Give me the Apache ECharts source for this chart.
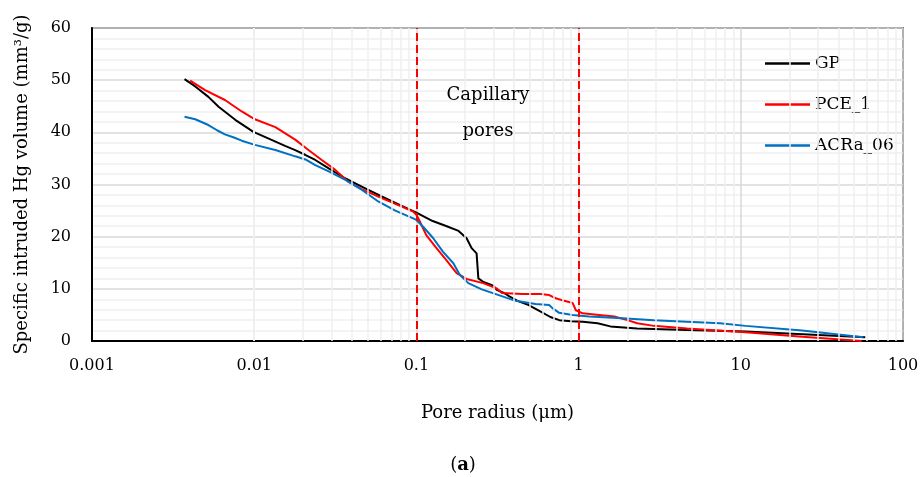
<!DOCTYPE html>
<html>
<head>
<meta charset="utf-8">
<script src="https://cdn.jsdelivr.net/npm/echarts@6/dist/echarts.min.js"></script>
<style>
html,body{margin:0;padding:0;background:#fff;}
#chart{width:922px;height:477px;}
</style>
</head>
<body>
<div id="chart"></div>
<script>
// ---- data ----
var xTickLabels = ['0.001', '0.01', '0.1', '1', '10', '100'];
var seriesNames = ['GP', 'PCE_1', 'ACRa_06'];

var gpX = [0.00372,0.00433,0.00522,0.00603,0.00764,0.00989,0.0129,0.0155,0.0179,0.0206,0.0238,0.0288,0.0363,0.046,0.0611,0.0812,0.1,0.126,0.151,0.182,0.204,0.219,0.235,0.241,0.259,0.298,0.313,0.352,0.372,0.42,0.483,0.58,0.67,0.76,0.9,1.06,1.31,1.57,2.29,4.64,10.7,30.1,58.5];
var gpY = [50.2,48.8,46.8,44.9,42.4,40.1,38.5,37.4,36.6,35.7,34.7,33.1,31.2,29.6,27.7,25.9,24.6,23.0,22.1,21.1,19.7,17.8,16.8,12.0,11.3,10.6,9.8,9.1,8.6,7.7,7.0,5.7,4.6,4.0,3.8,3.7,3.4,2.8,2.4,2.1,1.8,1.15,0.7];

var pceX = [0.00403,0.00498,0.0066,0.00838,0.0101,0.0135,0.0179,0.0216,0.0261,0.0316,0.0382,0.046,0.0611,0.0812,0.0955,0.1,0.105,0.115,0.133,0.153,0.177,0.204,0.258,0.312,0.337,0.449,0.581,0.658,0.723,0.815,0.918,0.962,1.06,1.34,1.66,2.0,2.30,2.91,4.66,10.7,23.9,55.7];
var pceY = [49.9,48.1,46.2,44.0,42.5,41.0,38.6,36.6,34.7,32.8,30.5,29.1,27.4,25.75,24.8,24.2,22.9,20.3,17.8,15.5,13.0,11.9,11.1,10.1,9.2,9.0,9.0,8.8,8.2,7.7,7.3,5.9,5.3,5.0,4.7,4.0,3.4,2.9,2.4,1.7,0.8,0.0];

var acrX = [0.00372,0.00433,0.00522,0.0059,0.0066,0.0075,0.00838,0.0101,0.0135,0.0179,0.0207,0.0238,0.0288,0.0365,0.046,0.0585,0.0741,0.0955,0.1,0.11,0.127,0.146,0.169,0.185,0.209,0.253,0.322,0.408,0.543,0.658,0.69,0.759,0.918,1.16,1.86,2.91,4.66,7.45,10.7,23.9,57];
var acrY = [43.0,42.5,41.4,40.4,39.6,39.0,38.4,37.6,36.6,35.4,34.8,33.7,32.5,30.9,29.0,26.7,25.0,23.5,23.2,21.9,19.7,17.1,14.9,12.7,11.1,9.9,8.8,7.7,7.1,6.9,6.3,5.4,5.0,4.7,4.35,4.0,3.7,3.4,2.9,2.0,0.7];

var boundaryLines = [0.1, 1];
// ---------------------------------------

function pairs(xs, ys) { return xs.map(function (x, i) { return [x, ys[i]]; }); }

// minor vertical gridlines of the log axis (2..9 within each decade)
var minorGrid = [];
[0.001, 0.01, 0.1, 1, 10].forEach(function (d) {
  for (var m = 2; m <= 9; m++) minorGrid.push({ xAxis: +(d * m).toPrecision(3) });
});

var FONT = '"DejaVu Serif", "Liberation Serif", serif';
var chart = echarts.init(document.getElementById('chart'), null, { renderer: 'canvas' });

chart.setOption({
  animation: false,
  backgroundColor: '#ffffff',
  grid: { left: 92, right: 19, top: 28, bottom: 136, show: true, borderColor: '#000', borderWidth: 1.5, containLabel: false },
  legend: {
    data: seriesNames,
    orient: 'vertical',
    left: 760, top: 48,
    icon: 'rect',
    itemWidth: 45, itemHeight: 2.5, itemGap: 20,
    textStyle: { fontFamily: FONT, fontSize: 17, color: '#000', lineHeight: 21 }
  },
  xAxis: {
    type: 'log', logBase: 10, min: 0.001, max: 100,
    name: 'Pore radius (μm)', nameLocation: 'middle', nameGap: 63,
    nameTextStyle: { fontFamily: FONT, fontSize: 18, color: '#000' },
    axisLine: { show: true, lineStyle: { color: '#000', width: 2 } },
    axisTick: { show: false },
    axisLabel: {
      margin: 17, fontFamily: FONT, fontSize: 16, color: '#000',
      formatter: function (v) {
        var i = Math.round(Math.log10(v)) + 3;
        return xTickLabels[i] !== undefined ? xTickLabels[i] : '';
      }
    },
    splitLine: { show: true, lineStyle: { color: '#d9d9d9', width: 1.5 } }
  },
  yAxis: {
    type: 'value', min: 0, max: 60, interval: 10,
    name: 'Specific intruded Hg volume (mm³/g)', nameLocation: 'middle', nameGap: 61,
    nameTextStyle: { fontFamily: FONT, fontSize: 18, color: '#000' },
    axisLine: { show: true, lineStyle: { color: '#000', width: 2 } },
    axisTick: { show: false },
    axisLabel: { margin: 21, fontFamily: FONT, fontSize: 16, color: '#000' },
    splitLine: { show: true, lineStyle: { color: '#d9d9d9', width: 1.5 } },
    minorTick: { show: false, splitNumber: 5 },
    minorSplitLine: { show: true, lineStyle: { color: '#efefef', width: 1.5 } }
  },
  graphic: [
    { type: 'text', x: 488, y: 95, z: 10, style: { text: 'Capillary', align: 'center', verticalAlign: 'middle', font: '18px ' + FONT, fill: '#000' } },
    { type: 'text', x: 488, y: 131, z: 10, style: { text: 'pores', align: 'center', verticalAlign: 'middle', font: '18px ' + FONT, fill: '#000' } },
    { type: 'text', x: 463, y: 465, z: 10, style: {
        text: '{n|(}{b|a}{n|)}', align: 'center', verticalAlign: 'middle',
        rich: { n: { fontFamily: FONT, fontSize: 18, fill: '#000' }, b: { fontFamily: FONT, fontSize: 18, fontWeight: 'bold', fill: '#000' } }
    } }
  ],
  series: [
    {
      name: 'minor-grid', type: 'line', data: [], z: 1, silent: true,
      markLine: { silent: true, symbol: ['none', 'none'], label: { show: false },
        lineStyle: { color: '#efefef', width: 1.5, type: 'solid' }, data: minorGrid, animation: false }
    },
    {
      name: 'boundaries', type: 'line', data: [], z: 5, silent: true,
      markLine: { silent: true, symbol: ['none', 'none'], label: { show: false },
        lineStyle: { color: '#ff0000', width: 2, type: [8, 4] },
        data: boundaryLines.map(function (v) { return { xAxis: v }; }), animation: false }
    },
    { name: seriesNames[0], type: 'line', z: 4, symbol: 'none', data: pairs(gpX, gpY), lineStyle: { color: '#000000', width: 2 }, itemStyle: { color: '#000000' } },
    { name: seriesNames[1], type: 'line', z: 4, symbol: 'none', data: pairs(pceX, pceY), lineStyle: { color: '#ff0000', width: 2 }, itemStyle: { color: '#ff0000' } },
    { name: seriesNames[2], type: 'line', z: 4, symbol: 'none', data: pairs(acrX, acrY), lineStyle: { color: '#0070c0', width: 2 }, itemStyle: { color: '#0070c0' } }
  ]
});
</script>
</body>
</html>
